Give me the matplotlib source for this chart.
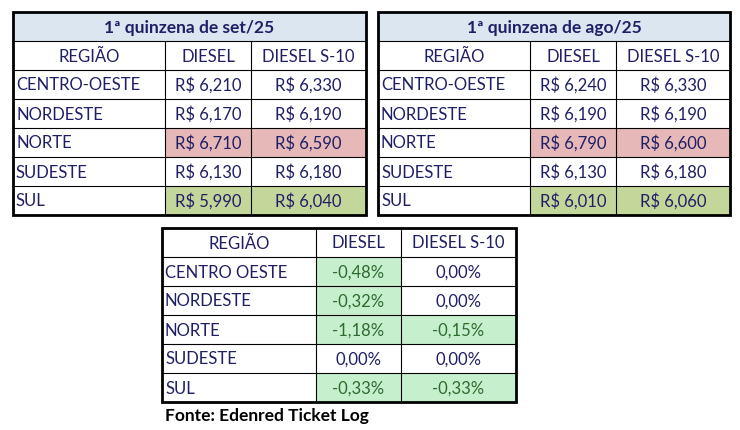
import matplotlib
matplotlib.use("Agg")
import matplotlib.pyplot as plt
from matplotlib.patches import Rectangle

regions = ["CENTRO-OESTE", "NORDESTE", "NORTE", "SUDESTE", "SUL"]
regions3 = ["CENTRO OESTE", "NORDESTE", "NORTE", "SUDESTE", "SUL"]
headers = ["REGIÃO", "DIESEL", "DIESEL S-10"]
set_diesel = ["R$ 6,210", "R$ 6,170", "R$ 6,710", "R$ 6,130", "R$ 5,990"]
set_s10 = ["R$ 6,330", "R$ 6,190", "R$ 6,590", "R$ 6,180", "R$ 6,040"]
ago_diesel = ["R$ 6,240", "R$ 6,190", "R$ 6,790", "R$ 6,130", "R$ 6,010"]
ago_s10 = ["R$ 6,330", "R$ 6,190", "R$ 6,600", "R$ 6,180", "R$ 6,060"]
var_diesel = ["-0,48%", "-0,32%", "-1,18%", "0,00%", "-0,33%"]
var_s10 = ["0,00%", "0,00%", "-0,15%", "0,00%", "-0,33%"]

NAVY = "#1f1f66"
RED = "#e6b8b7"; OLIVE = "#c4d79b"; LGREEN = "#c6efce"; TITLEBG = "#dce6f1"
FONT = "Lato"

fig = plt.figure(figsize=(7.4, 4.3), dpi=100)
ax = fig.add_axes([0, 0, 1, 1])
ax.set_xlim(0, 740); ax.set_ylim(430, 0); ax.axis("off")

def table(x0, cols, y0, rowh, title, rows, c1, c2, fills, textcolors):
    xs = [x0]
    for w in cols:
        xs.append(xs[-1] + w)
    y = y0
    ytop = y0
    if title:
        ax.add_patch(Rectangle((xs[0], y), xs[-1]-xs[0], rowh, fc=TITLEBG, ec="none"))
        ax.text((xs[0]+xs[-1])/2, y+rowh/2+1, title, ha="center", va="center",
                fontsize=12.5, fontweight="bold", color=NAVY, family=FONT)
        y += rowh
        ax.plot([xs[0], xs[-1]], [y, y], color="black", lw=0.8)
    for j, h in enumerate(headers):
        ax.text((xs[j]+xs[j+1])/2, y+rowh/2+1, h, ha="center", va="center",
                fontsize=12, color=NAVY, family=FONT)
    yhead = y
    y += rowh
    for i, r in enumerate(rows):
        vals = [r, c1[i], c2[i]]
        for j, v in enumerate(vals):
            f = fills[i][j]
            if f:
                ax.add_patch(Rectangle((xs[j], y), xs[j+1]-xs[j], rowh, fc=f, ec="none"))
            if j == 0:
                ax.text(xs[0]+3, y+rowh/2+1, v, ha="left", va="center",
                        fontsize=12, color=NAVY, family=FONT)
            else:
                ax.text((xs[j]+xs[j+1])/2, y+rowh/2+1, v, ha="center", va="center",
                        fontsize=12, color=textcolors[i][j], family=FONT)
        y += rowh
    ybot = y
    for k in range(len(rows)):
        yy = yhead + rowh*(k+1)
        ax.plot([xs[0], xs[-1]], [yy, yy], color="black", lw=0.8)
    for xx in xs[1:-1]:
        ax.plot([xx, xx], [yhead, ybot], color="black", lw=0.8)
    ax.add_patch(Rectangle((xs[0], ytop), xs[-1]-xs[0], ybot-ytop, fc="none", ec="black", lw=2))

def fills_price():
    f = [[None]*3 for _ in range(5)]
    f[2][1] = f[2][2] = RED
    f[4][1] = f[4][2] = OLIVE
    return f

tc = [[NAVY]*3 for _ in range(5)]
table(13, [152, 86, 115], 12, 29, "1ª quinzena de set/25", regions, set_diesel, set_s10, fills_price(), tc)
table(378, [152, 86, 114], 12, 29, "1ª quinzena de ago/25", regions, ago_diesel, ago_s10, fills_price(), tc)

f3 = [[None]*3 for _ in range(5)]
tc3 = [[NAVY]*3 for _ in range(5)]
for i in range(5):
    for j, col in ((1, var_diesel), (2, var_s10)):
        if col[i].startswith("-"):
            f3[i][j] = LGREEN
            tc3[i][j] = "#2e6b2e"
table(162, [154, 85, 115], 228, 29, None, regions3, var_diesel, var_s10, f3, tc3)

ax.text(165, 416, "Fonte: Edenred Ticket Log", ha="left", va="center",
        fontsize=12.5, fontweight="bold", color="black", family=FONT)

fig.savefig("out.png", dpi=100)
